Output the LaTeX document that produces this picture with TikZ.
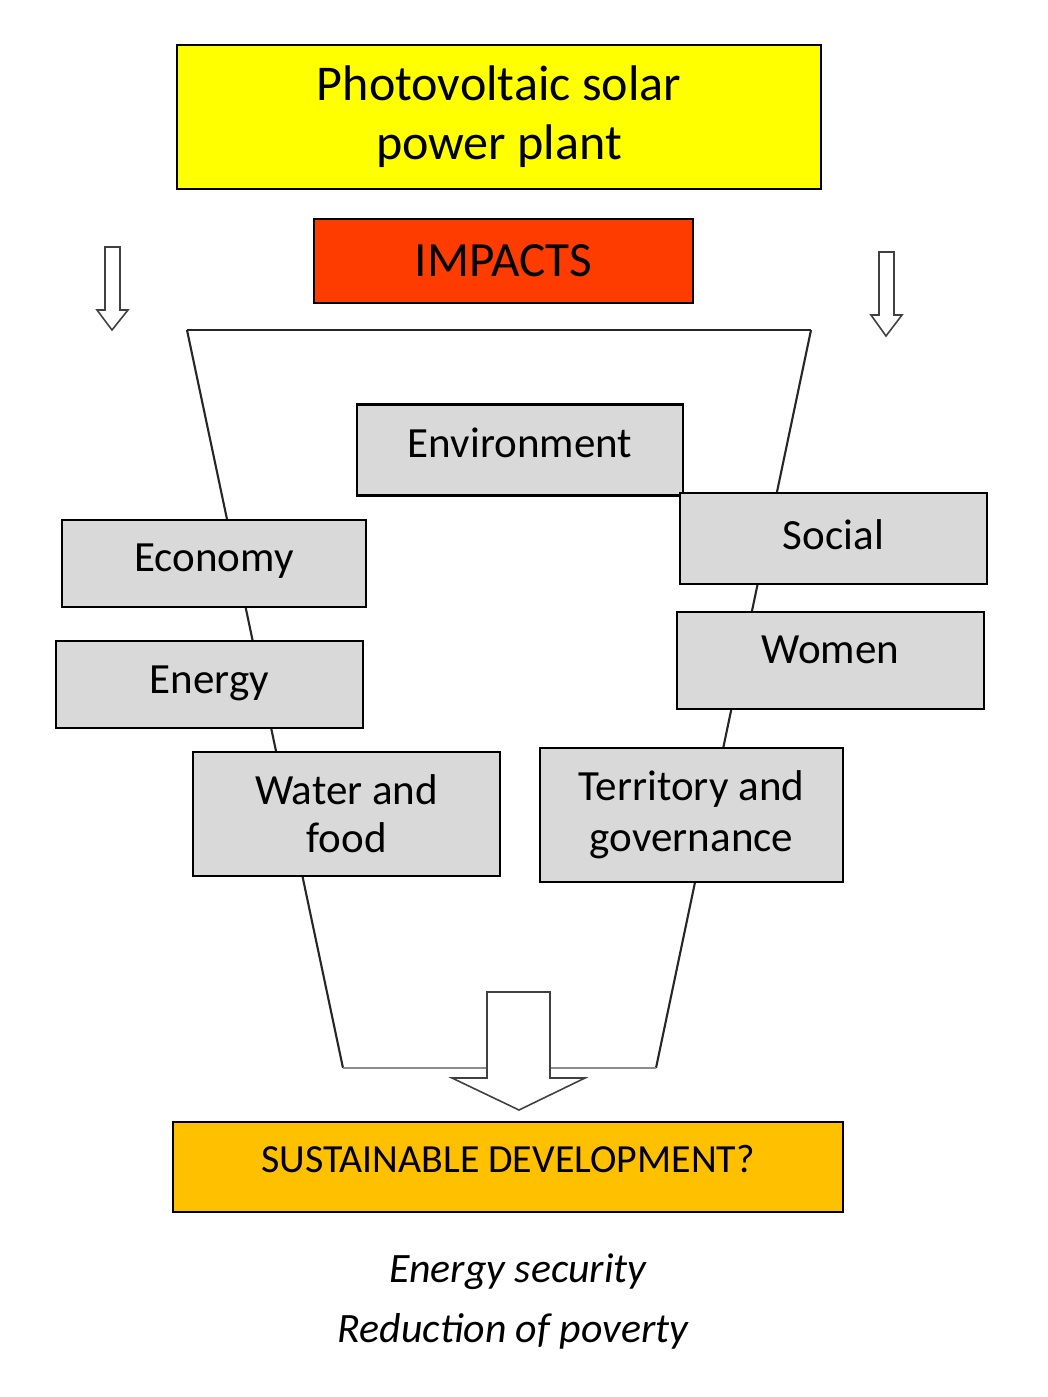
\documentclass[tikz,border=0pt]{standalone}
\usepackage{fontspec}
\setmainfont{Carlito}
\definecolor{titleyellow}{HTML}{FFFF00}
\definecolor{impactred}{HTML}{FF3C00}
\definecolor{sustorange}{HTML}{FFC000}
\definecolor{boxgray}{HTML}{D9D9D9}
\tikzset{
 topic/.style={draw=black,line width=1.4pt,fill=boxgray,align=center,inner sep=0pt,font=\fontsize{24.5}{29}\selectfont},
 nudge/.style={text height=#1,text depth=0pt},
 hollow/.style={draw=black!75,line width=0.9pt,fill=white},
 funnel/.style={draw=black!85,line width=1.2pt}
}
\begin{document}
\begin{tikzpicture}[x=0.02cm,y=-0.02cm]
 \useasboundingbox (0,0) rectangle (1048,1397);
 \draw[funnel](187,330)--(811,330);
 \draw[funnel](187,330)--(343,1068);
 \draw[funnel](811,330)--(656,1068);
 \draw[funnel,draw=black!45](343,1068)--(656,1068);
 \draw[hollow](105,247)--(120,247)--(120,310)--(128,310)--(112,330)--(97,310)--(105,310)--cycle;
 \draw[hollow](879,252)--(894,252)--(894,315)--(902,315)--(886,336)--(871,315)--(879,315)--cycle;
 \draw[hollow](487,1078)--(487,992)--(550,992)--(550,1078)--(585,1078)--(519,1110)--(452,1078)--cycle;
 \node[draw=black,line width=1.4pt,fill=titleyellow,minimum width=644*0.02cm,minimum height=144*0.02cm,align=center,font=\fontsize{28.5}{33.5}\selectfont](plant) at (499,117){Photovoltaic solar\\power plant};
 \node[draw=black,line width=1.4pt,fill=impactred,minimum width=379*0.02cm,minimum height=84*0.02cm,font=\fontsize{28}{33}\selectfont](impacts) at (503.5,261){IMPACTS};
 \node[topic,nudge=0.28cm,minimum width=326*0.02cm,minimum height=91*0.02cm](environment) at (520,450){Environment};
 \node[topic,nudge=0.42cm,minimum width=307*0.02cm,minimum height=91*0.02cm](social) at (833.5,538.5){Social};
 \node[topic,nudge=0.3cm,minimum width=304*0.02cm,minimum height=87*0.02cm](economy) at (214,563.5){Economy};
 \node[topic,nudge=0.34cm,minimum width=307*0.02cm,minimum height=87*0.02cm](energy) at (209.5,684.5){Energy};
 \node[topic,nudge=0.1cm,minimum width=307*0.02cm,minimum height=97*0.02cm](women) at (830.5,660.5){Women};
 \node[topic,minimum width=307*0.02cm,minimum height=124*0.02cm,font=\fontsize{24.5}{27.3}\selectfont](water) at (346.5,814){Water and\\food};
 \node[topic,minimum width=303*0.02cm,minimum height=134*0.02cm,font=\fontsize{24.5}{29}\selectfont](territory) at (691.5,815){Territory and\\governance};
 \node[draw=black,line width=1.4pt,fill=sustorange,nudge=0.23cm,minimum width=670*0.02cm,minimum height=90*0.02cm,font=\fontsize{22.7}{27}\selectfont](sustainable) at (508,1167){SUSTAINABLE DEVELOPMENT?};
 \node[font=\fontsize{23.8}{28}\itshape\selectfont](security) at (518,1272){Energy security};
 \node[font=\fontsize{23.8}{28}\itshape\selectfont](poverty) at (513,1331){Reduction of poverty};
\end{tikzpicture}
\end{document}
